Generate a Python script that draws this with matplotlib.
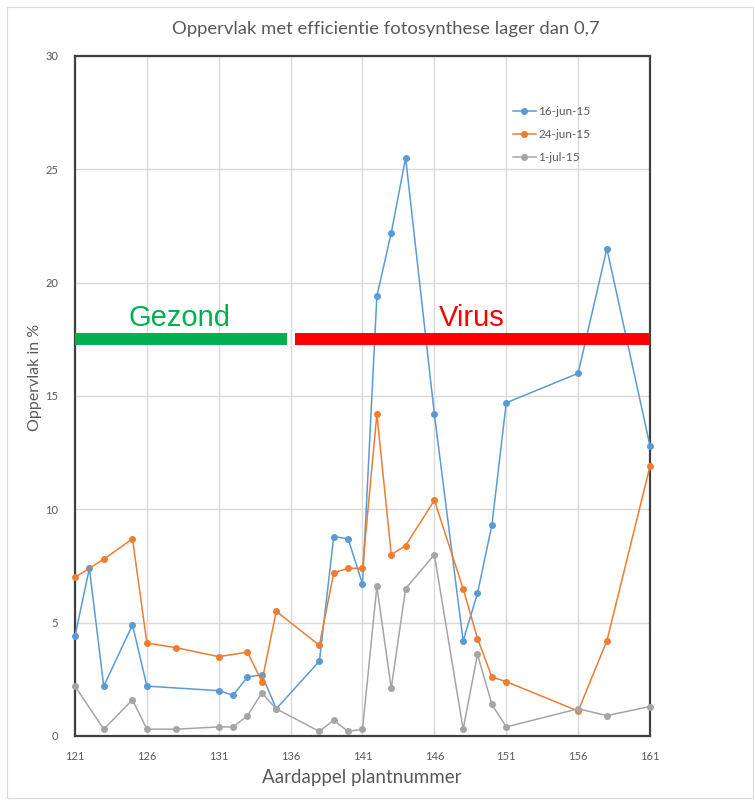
import numpy as np
import matplotlib
matplotlib.use("Agg")
import matplotlib.pyplot as plt

plant = [121, 122, 123, 125, 126, 128, 131, 132, 133, 134, 135,
         138, 139, 140, 141, 142, 143, 144, 146, 148, 149, 150, 151, 156, 158, 161]
nan = np.nan
jun16 = [4.4, 7.4, 2.2, 4.9, 2.2, nan, 2.0, 1.8, 2.6, 2.7, 1.2,
         3.3, 8.8, 8.7, 6.7, 19.4, 22.2, 25.5, 14.2, 4.2, 6.3, 9.3, 14.7, 16.0, 21.5, 12.8]
jun24 = [7.0, nan, 7.8, 8.7, 4.1, 3.9, 3.5, nan, 3.7, 2.4, 5.5,
         4.0, 7.2, 7.4, 7.4, 14.2, 8.0, 8.4, 10.4, 6.5, 4.3, 2.6, 2.4, 1.1, 4.2, 11.9]
jul1 = [2.2, nan, 0.3, 1.6, 0.3, 0.3, 0.4, 0.4, 0.9, 1.9, 1.2,
        0.2, 0.7, 0.2, 0.3, 6.6, 2.1, 6.5, 8.0, 0.3, 3.6, 1.4, 0.4, 1.2, 0.9, 1.3]
series_names = ["16-jun-15", "24-jun-15", "1-jul-15"]
series_colors = ["#5B9BD5", "#ED7D31", "#A5A5A5"]

groups = ["Gezond", "Virus"]
group_start = [121, 136.3]
group_end = [135.75, 161]
group_level = 17.5
group_colors = ["#00B050", "#FF0000"]
group_text_x = [128.3, 148.6]

title = "Oppervlak met efficientie fotosynthese lager dan 0,7"
xlabel = "Aardappel plantnummer"
ylabel = "Oppervlak in %"

W, H = 755, 801
fig = plt.figure(figsize=(W / 100, H / 100), dpi=100)
ax = fig.add_axes([75 / W, 1 - 736 / H, 575 / W, 680 / H])

x = np.array(plant, dtype=float)
for vals, name, col in zip([jun16, jun24, jul1], series_names, series_colors):
    v = np.array(vals, dtype=float)
    m = ~np.isnan(v)
    ax.plot(x[m], v[m], color=col, lw=1.1, marker="o", ms=4, label=name,
            clip_on=False, zorder=3)

for s, e, c, t, tx in zip(group_start, group_end, group_colors, groups, group_text_x):
    ax.plot([s, e], [group_level, group_level], color=c, lw=8.6,
            solid_capstyle="butt", zorder=5, clip_on=False)
    ax.text(tx, 18.1, t, color=c, fontsize=21, family="Liberation Sans",
            ha="center", va="baseline", zorder=6)

ax.set_xlim(121, 161)
ax.set_ylim(0, 30)
ax.set_xticks(np.arange(121, 162, 5))
ax.set_yticks(np.arange(0, 31, 5))
ax.grid(True, color="#D9D9D9", lw=1.0)
ax.set_axisbelow(True)
ax.tick_params(length=0, labelsize=8, labelcolor="#595959")
ax.tick_params(axis="y", pad=12)
ax.tick_params(axis="x", pad=11)
for lab in ax.get_xticklabels() + ax.get_yticklabels():
    lab.set_family("Lato")
for sp in ax.spines.values():
    sp.set_color("#404040")
    sp.set_linewidth(1.6)

leg = ax.legend(loc="upper left", bbox_to_anchor=(0.762, 0.926), frameon=False,
                handlelength=1.9, handletextpad=0.25,
                labelspacing=1.0, borderpad=0, borderaxespad=0,
                prop={"family": "Lato", "size": 8.5})
for t in leg.get_texts():
    t.set_color("#595959")

fig.text(386 / W, 1 - 29 / H, title, ha="center", va="center",
         fontsize=13.3, color="#595959", family="Lato")
fig.text(362 / W, 1 - 778 / H, xlabel, ha="center", va="center",
         fontsize=13.5, color="#595959", family="Lato")
fig.text(35 / W, 1 - 377 / H, ylabel, ha="center", va="center", rotation=90,
         fontsize=11.5, color="#595959", family="Lato")

# outer chart border
fig.add_artist(plt.Rectangle((7 / W, 1 - 798 / H), 746 / W, 791 / H,
                             transform=fig.transFigure, fill=False,
                             edgecolor="#D9D9D9", lw=0.8))

fig.savefig("out.png", dpi=100)
